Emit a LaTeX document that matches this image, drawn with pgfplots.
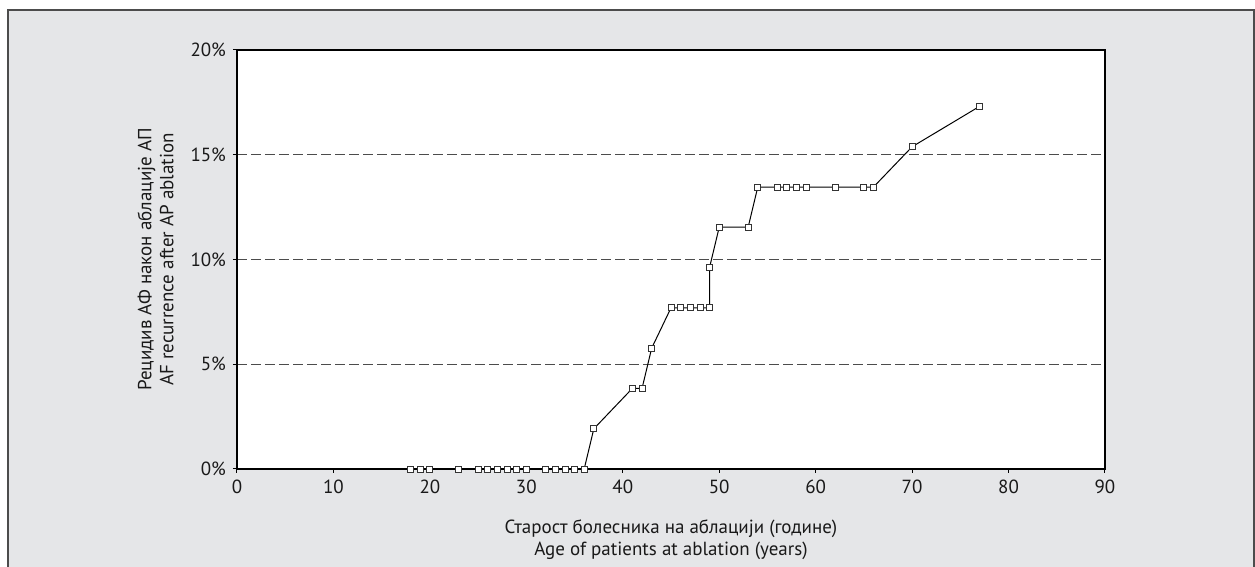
\documentclass[border=0pt]{standalone}
\usepackage{pgfplots}
\pgfplotsset{compat=1.18}
\usepackage{fontspec}
\setmainfont{PT Sans}
\definecolor{bg}{RGB}{229,230,232}
\begin{document}
\begin{tikzpicture}
\path[use as bounding box] (0pt,0pt) rectangle (627.5pt,283.5pt);
\fill[bg] (4pt,-5pt) rectangle (627pt,278.5pt);
\draw[line width=1pt, black!70] (4pt,-5pt) -- (4pt,278.5pt) -- (627pt,278.5pt) -- (627pt,-5pt);
\begin{axis}[
  at={(118.5pt,49pt)}, anchor=south west,
  scale only axis, width=434pt, height=209.5pt,
  xmin=0, xmax=90, ymin=0, ymax=20,
  xtick={0,10,...,90}, ytick={0,5,...,20},
  axis background/.style={fill=white},
  axis line style={line width=0.6pt},
  tick align=outside, major tick length=2pt,
  tick style={line width=0.5pt, black},
  xtick pos=bottom, ytick pos=left,
  ymajorgrids,
  major grid style={dash pattern=on 5pt off 2pt, black!70, line width=0.5pt},
  /pgf/number format/assume math mode=true,
  ticklabel style={font=\fontsize{9.5}{11}\selectfont, text=black!90},
  yticklabel={\pgfmathprintnumber{\tick}\%},
  xlabel={Старост болесника на аблацији (године)\\Age of patients at ablation (years)},
  ylabel={Рецидив АФ након аблације АП\\AF recurrence after AP ablation},
  label style={font=\fontsize{9.5}{11}\selectfont, align=center, text=black!90},
  xlabel style={at={(axis description cs:0.5,0)}, anchor=north, yshift=-22pt},
  ylabel style={at={(axis description cs:-0.065,0.5)}, anchor=south, rotate=0},
  clip=false,
]
\addplot[black, line width=0.5pt, mark=square*, mark size=1.5pt,
  mark options={fill=white, draw=black!80, line width=0.4pt}] coordinates {
(18,0) (19,0) (20,0) (23,0) (25,0) (25,0) (26,0) (27,0) (28,0) (29,0) (30,0) (30,0)
(32,0) (32,0) (33,0) (34,0) (34,0) (35,0) (36,0)
(37,1.92) (41,3.85) (42,3.85) (43,5.77)
(45,7.69) (46,7.69) (47,7.69) (48,7.69) (48,7.69) (49,7.69) (49,7.69)
(49,9.62) (50,11.54) (53,11.54) (54,13.46) (54,13.46)
(56,13.46) (57,13.46) (58,13.46) (59,13.46) (62,13.46) (65,13.46) (66,13.46)
(70,15.38) (77,17.31)
};
\end{axis}
\end{tikzpicture}
\end{document}
